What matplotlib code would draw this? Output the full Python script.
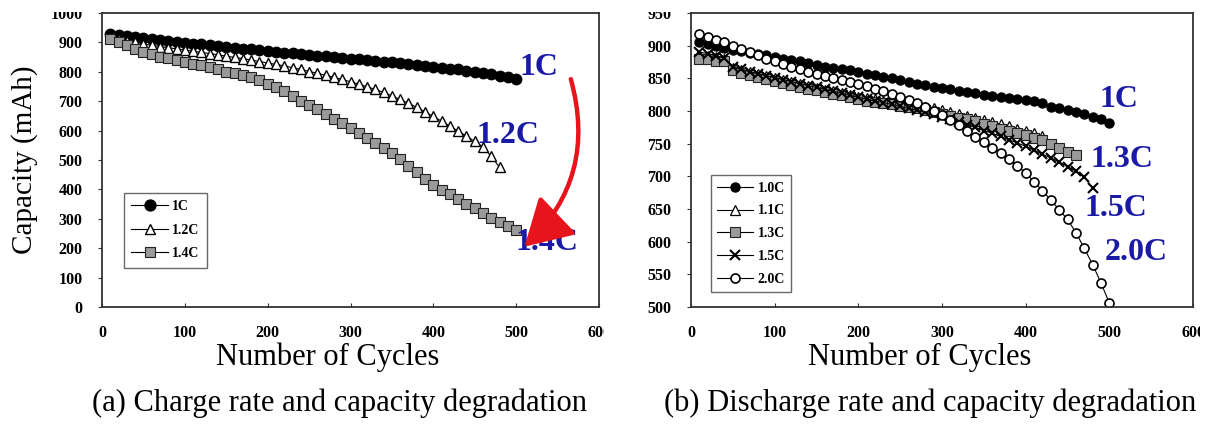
import numpy as np
import matplotlib.pyplot as plt
from matplotlib.patches import Rectangle

plt.rcParams['font.family'] = ['Liberation Serif', 'DejaVu Serif']

# ---- (a) charge rate data ----
cycles_a = np.arange(10, 510, 10)
cap_1c = [928, 925, 921, 918, 914, 911, 908, 905, 902, 899,
          896, 893, 890, 887, 884, 881, 879, 876, 873, 870,
          868, 865, 863, 860, 858, 855, 853, 850, 848, 845,
          843, 840, 837, 835, 832, 829, 826, 823, 820, 817,
          814, 811, 808, 804, 801, 797, 792, 787, 782, 776]
cap_12c = [915, 910, 905, 900, 895, 890, 886, 882, 878, 874,
           870, 866, 862, 858, 853, 849, 845, 840, 835, 830,
           825, 820, 814, 808, 801, 795, 788, 781, 774, 766,
           758, 749, 740, 730, 718, 706, 693, 679, 664, 648,
           632, 615, 598, 581, 563, 544, 512, 475]
cap_14c = [910, 900, 890, 878, 868, 860, 852, 846, 840, 834,
           828, 822, 815, 808, 801, 795, 789, 782, 772, 760,
           748, 734, 718, 702, 688, 672, 657, 641, 625, 609,
           592, 576, 558, 541, 524, 502, 480, 458, 436, 415,
           399, 383, 367, 351, 336, 320, 304, 288, 274, 262]

# ---- (b) discharge rate data ----
cap_d10 = [906, 903, 900, 897, 894, 892, 889, 887, 885, 883,
           880, 878, 876, 873, 871, 868, 866, 864, 862, 860,
           857, 855, 852, 850, 847, 845, 842, 840, 837, 835,
           833, 831, 829, 827, 825, 823, 821, 820, 819, 817,
           815, 812, 806, 804, 801, 798, 795, 791, 787, 782]
cap_d11 = [885, 884, 882, 880, 866, 862, 859, 856, 853, 850,
           847, 844, 841, 838, 835, 832, 830, 827, 825, 822,
           820, 818, 816, 814, 812, 810, 808, 806, 804, 801,
           798, 795, 792, 789, 786, 783, 780, 777, 773, 770,
           766, 761]
cap_d13 = [880, 879, 877, 876, 862, 858, 855, 852, 849, 846,
           843, 840, 837, 834, 832, 829, 826, 824, 821, 819,
           816, 814, 812, 810, 808, 806, 804, 802, 799, 796,
           793, 790, 787, 784, 780, 777, 773, 770, 766, 763,
           759, 755, 750, 744, 738, 732]
cap_d15 = [890, 888, 884, 881, 868, 864, 860, 857, 854, 851,
           848, 845, 842, 839, 836, 833, 830, 827, 824, 821,
           818, 815, 813, 810, 807, 804, 801, 798, 795, 791,
           787, 783, 779, 775, 770, 766, 761, 756, 751, 746,
           740, 734, 728, 722, 715, 708, 699, 682]
cap_d20 = [918, 913, 909, 905, 900, 895, 890, 885, 880, 876,
           872, 868, 864, 860, 857, 854, 851, 848, 845, 842,
           838, 834, 830, 826, 822, 817, 812, 806, 800, 794,
           786, 778, 769, 760, 752, 744, 736, 727, 716, 705,
           692, 678, 664, 649, 634, 614, 590, 565, 537, 506]

W, H = 1205, 424
fig = plt.figure(figsize=(W / 100, H / 100), dpi=100)
ax1 = fig.add_axes([102 / W, 1 - 307 / H, 497 / W, 294 / H])
ax2 = fig.add_axes([691 / W, 1 - 307 / H, 502 / W, 294 / H])

tick_font = dict(family='Liberation Serif', weight='bold', size=11.5)
leg_font = dict(family='Liberation Serif', weight='bold', size=10)
ann_color = '#1a1aa6'


def style_axes(ax):
    for sp in ax.spines.values():
        sp.set_color('#333333')
        sp.set_linewidth(1.3)
    ax.tick_params(axis='x', direction='in', length=3, pad=13, color='#333333')
    ax.tick_params(axis='y', direction='out', length=3, pad=11, color='#333333')
    for lab in ax.get_xticklabels() + ax.get_yticklabels():
        lab.set_fontproperties(tick_font)


# (a)
ax1.plot(cycles_a, cap_1c, '-o', color='black', lw=0.8, ms=7.5,
         mfc='black', mec='black', label='1C')
ax1.plot(cycles_a[:len(cap_12c)], cap_12c, '-^', color='black', lw=0.8, ms=7.5,
         mfc='white', mec='black', mew=1.0, label='1.2C')
ax1.plot(cycles_a, cap_14c, '-s', color='black', lw=0.8, ms=7,
         mfc='#9a9a9a', mec='#222222', mew=0.8, label='1.4C')
ax1.set_xlim(0, 600)
ax1.set_ylim(0, 1000)
ax1.set_xticks(np.arange(0, 700, 100))
ax1.set_yticks(np.arange(0, 1100, 100))
style_axes(ax1)
leg1 = ax1.legend(loc='lower left', bbox_to_anchor=(0.03, 0.11), prop=leg_font,
                  frameon=True, fancybox=False, edgecolor='#444444',
                  handlelength=2.6, labelspacing=0.75, borderpad=0.55,
                  handletextpad=0.3, markerscale=1.05)
leg1.get_frame().set_linewidth(1.0)

ann = dict(color=ann_color, fontsize=23, fontweight='bold', ha='center', va='center')
ax1.text(528, 816, '1C', **ann)
ax1.text(490, 585, '1.2C', **ann)
ax1.text(537, 218, '1.4C', zorder=5, **ann)
ax1.annotate('', xy=(510, 205), xytext=(566, 775),
             arrowprops=dict(arrowstyle='-|>,head_length=1.3,head_width=0.75',
                             connectionstyle='arc3,rad=-0.3', color='#e8141c',
                             lw=3.2, mutation_scale=22, shrinkA=0, shrinkB=0),
             zorder=6)

# (b)
n = np.arange(10, 510, 10)
ax2.plot(n, cap_d10, '-o', color='black', lw=0.8, ms=6.5,
         mfc='black', mec='black', label='1.0C')
ax2.plot(n[:len(cap_d11)], cap_d11, '-^', color='black', lw=0.8, ms=6.5,
         mfc='white', mec='black', mew=0.9, label='1.1C')
ax2.plot(n[:len(cap_d13)], cap_d13, '-s', color='black', lw=0.8, ms=6.5,
         mfc='#9a9a9a', mec='#222222', mew=0.8, label='1.3C')
ax2.plot(n[:len(cap_d15)], cap_d15, '-x', color='black', lw=0.8, ms=6.5,
         mec='black', mew=1.5, label='1.5C')
ax2.plot(n, cap_d20, '-o', color='black', lw=0.8, ms=6.5,
         mfc='white', mec='black', mew=1.2, label='2.0C')
ax2.set_xlim(0, 600)
ax2.set_ylim(500, 950)
ax2.set_xticks(np.arange(0, 700, 100))
ax2.set_yticks(np.arange(500, 1000, 50))
style_axes(ax2)
leg2 = ax2.legend(loc='lower left', bbox_to_anchor=(0.026, 0.028), prop=leg_font,
                  frameon=True, fancybox=False, edgecolor='#444444',
                  handlelength=2.6, labelspacing=0.7, borderpad=0.45,
                  handletextpad=0.3, markerscale=1.0)
leg2.get_frame().set_linewidth(1.0)

ax2.text(512, 817, '1C', **ann)
ax2.text(515, 726, '1.3C', **ann)
ax2.text(508, 650, '1.5C', **ann)
ax2.text(532, 583, '2.0C', **ann)

# axis titles and captions
fig.text(25 / W, 1 - 160 / H, 'Capacity (mAh)', rotation=90, ha='center',
         va='center', family='Liberation Serif', size=21)
cap_font = dict(family='Liberation Serif', size=22)
fig.text(328 / W, 1 - 357 / H, 'Number of Cycles', ha='center', va='center', **cap_font)
fig.text(920 / W, 1 - 357 / H, 'Number of Cycles', ha='center', va='center', **cap_font)
fig.text(340 / W, 1 - 403 / H, '(a) Charge rate and capacity degradation',
         ha='center', va='center', **cap_font)
fig.text(930 / W, 1 - 403 / H, '(b) Discharge rate and capacity degradation',
         ha='center', va='center', **cap_font)

# the source image is cropped: gap between panels, edge labels cut off
masks = [(604, 0, 44, 340), (0, 0, 100, 12), (604, 0, 85, 12), (1200, 315, 5, 30)]
for x0, y0, w, h in masks:
    fig.patches.append(Rectangle((x0 / W, 1 - (y0 + h) / H), w / W, h / H,
                                 transform=fig.transFigure, facecolor='white',
                                 edgecolor='none', zorder=10))

fig.savefig('out.png', dpi=100)
